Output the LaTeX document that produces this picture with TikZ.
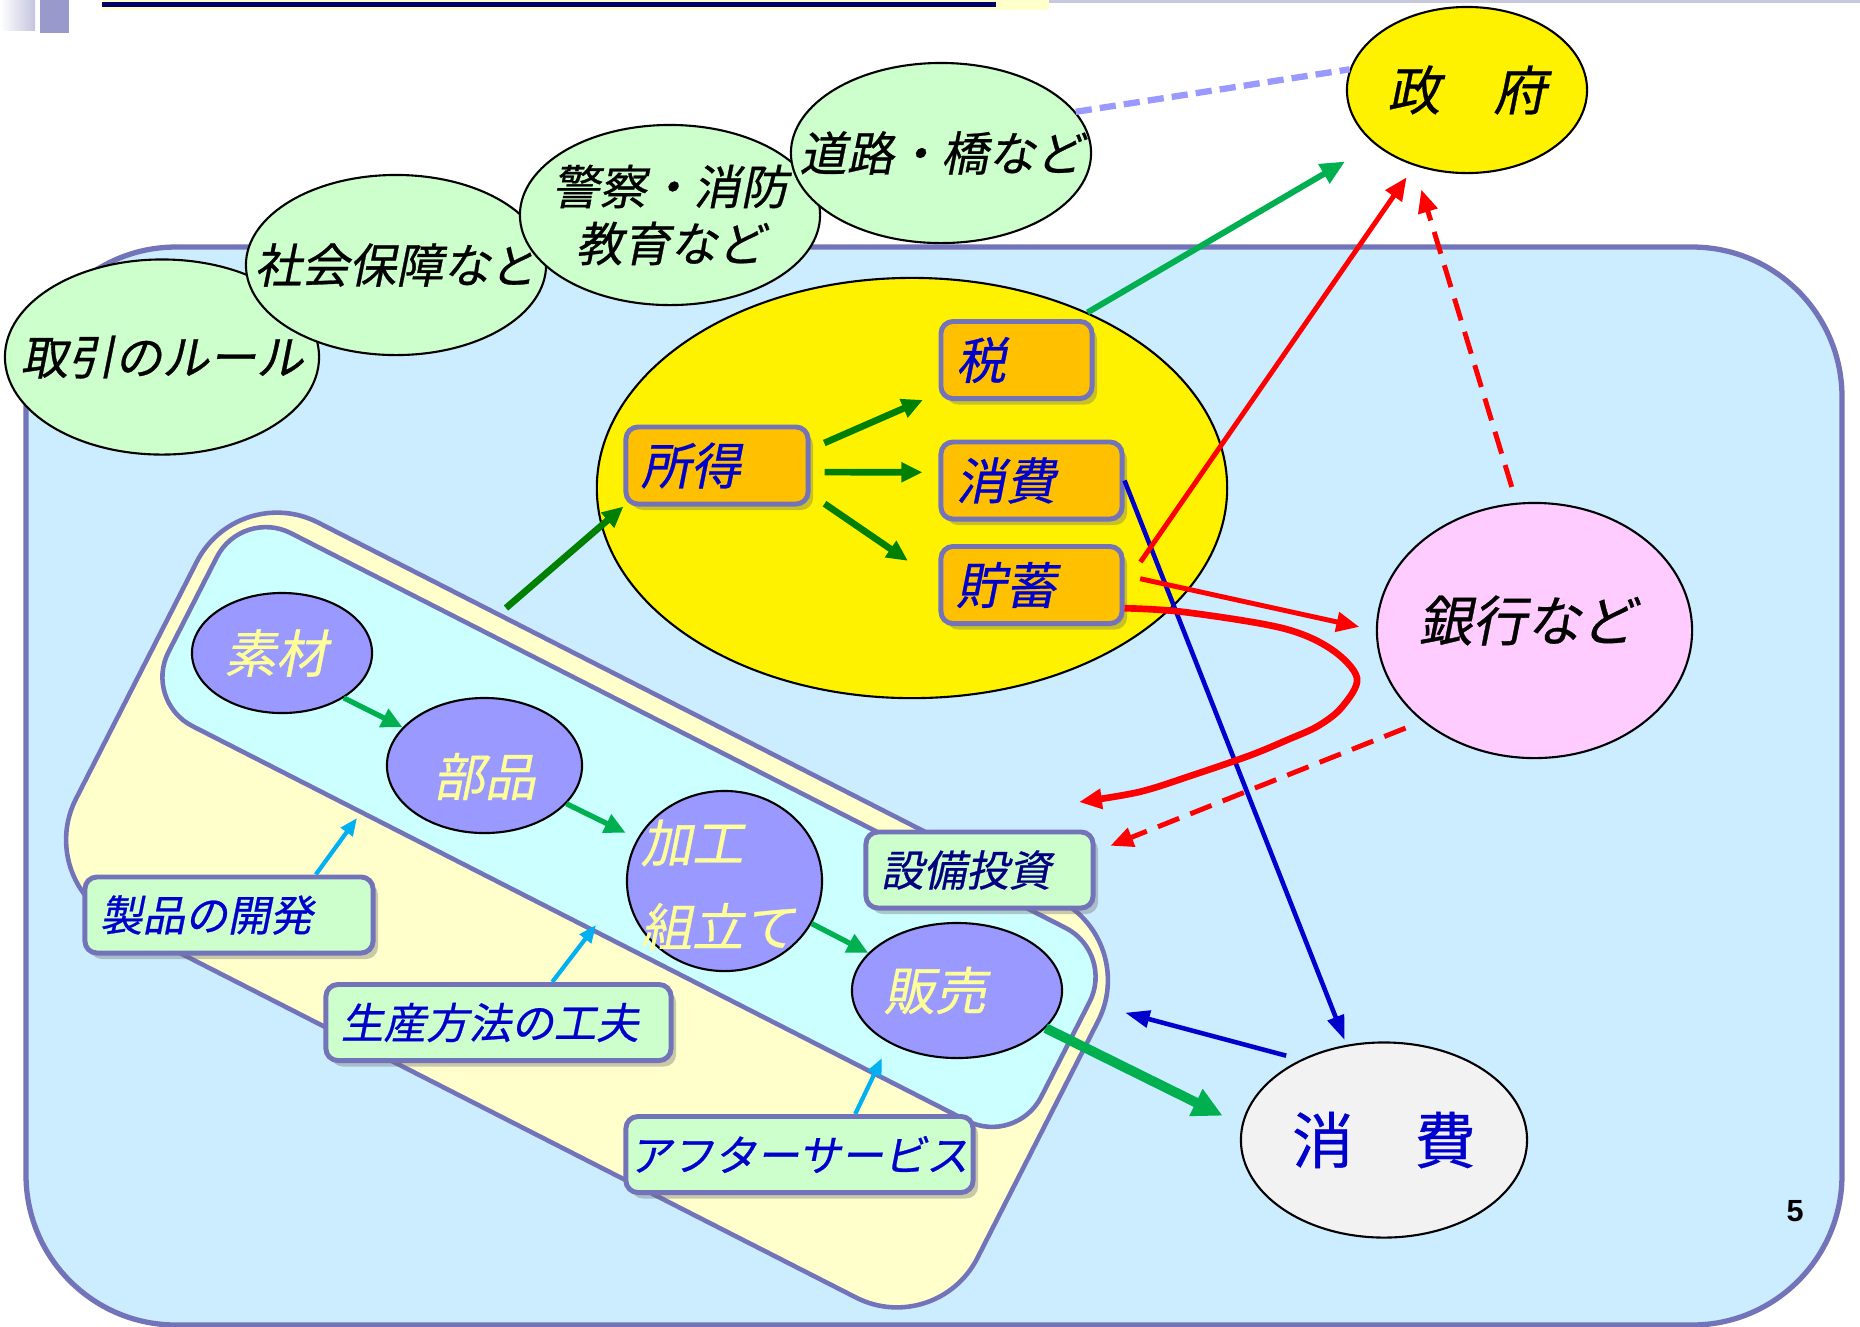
\documentclass[tikz,border=0pt]{standalone}
\usepackage{fontspec}
\newfontfamily\jpup[FakeBold=0.6]{Noto Sans CJK JP}
\newfontfamily\jpit[FakeSlant=0.2,FakeBold=0.6]{Noto Sans CJK JP}
\newfontfamily\pagefont{Liberation Sans}
\usetikzlibrary{arrows.meta,shapes.geometric,shadows}
\definecolor{sky}{RGB}{204,236,255}
\definecolor{rim}{RGB}{115,115,185}
\definecolor{mint}{RGB}{204,255,204}
\definecolor{cream}{RGB}{255,255,204}
\definecolor{aqua}{RGB}{204,255,255}
\definecolor{lilac}{RGB}{153,153,255}
\definecolor{straw}{RGB}{255,255,153}
\definecolor{amber}{RGB}{255,192,0}
\definecolor{ink}{RGB}{0,0,204}
\definecolor{navyink}{RGB}{0,0,128}
\definecolor{pinkish}{RGB}{255,204,255}
\definecolor{paleg}{RGB}{242,242,242}
\definecolor{leaf}{RGB}{0,128,0}
\definecolor{grass}{RGB}{0,176,80}
\definecolor{skyarrow}{RGB}{0,176,240}
\definecolor{headnavy}{RGB}{0,0,102}
\definecolor{headlav}{RGB}{196,196,224}
\definecolor{headdark}{RGB}{153,153,204}
\definecolor{headgrey}{RGB}{200,200,220}

\begin{document}
\begin{tikzpicture}[x=0.01cm,y=-0.01cm,
  oval/.style={ellipse,draw=black,line width=0.6pt,inner sep=0pt},
  service/.style={oval,fill=mint,minimum width=3cm,minimum height=1.8cm},
  svtext/.style={font=\jpit\fontsize{13.4}{16.2}\selectfont,align=center},
  proc/.style={oval,fill=lilac},
  proctext/.style={text=straw,font=\jpit\fontsize{14.6}{23.9}\selectfont},
  purse/.style={rectangle,rounded corners=0.12cm,draw=rim,line width=1.4pt,fill=amber,
    minimum height=0.77cm,inner xsep=0.15cm,align=left,text=ink,
    font=\jpit\fontsize{14.2}{17}\selectfont,
    drop shadow={shadow xshift=0.05cm,shadow yshift=-0.06cm,fill=black!60,opacity=0.35}},
  memo/.style={purse,fill=mint,minimum height=0.76cm,font=\jpit\fontsize{12.1}{14}\selectfont},
  band/.style={rectangle,draw=rim,line width=1.3pt,rotate=-27},
  flow/.style={leaf,line width=1.9pt,-{Triangle[length=6pt,width=5.4pt]}},
  tax/.style={grass,line width=1.7pt,-{Triangle[length=7pt,width=6pt]}},
  linkarrow/.style={grass,line width=1.5pt,-{Triangle[length=6pt,width=5.5pt]}},
  sell/.style={grass,line width=2.8pt,-{Triangle[length=8.5pt,width=8pt]}},
  cash/.style={red,line width=1.4pt,-{Triangle[length=6.5pt,width=5.5pt]}},
  loan/.style={cash,dash pattern=on 6.5pt off 3.4pt},
  goods/.style={ink,line width=1.3pt,-{Triangle[length=7pt,width=4.8pt]}},
  idea/.style={skyarrow,line width=1.2pt,-{Triangle[length=5pt,width=4pt]}},
  supply/.style={lilac,line width=1.8pt,dash pattern=on 4.6pt off 2.3pt}]
\useasboundingbox (0,0) rectangle (1860,1326);
\clip (0,0) rectangle (1860,1326);
\fill[left color=white,right color=headlav] (0,0) rectangle (35,30);
\fill[headdark] (40,0) rectangle (69,33);
\fill[cream] (102,0) rectangle (1049,10);
\fill[headnavy] (102,2) rectangle (996,7);
\fill[headgrey] (1049,0) rectangle (1860,3);
\draw[rim,line width=1.5pt,fill=sky,rounded corners=1.5cm] (26,247) rectangle (1842,1325);

\node[service,minimum width=3.14cm,minimum height=1.95cm,label={[name=torihiki-t,svtext]center:取引のルール}] (torihiki) at (162,357) {};
\node[service,label={[name=shakai-t,svtext]center:社会保障など}] (shakai) at (396,265) {};
\node[service,label={[name=keisatsu-t,svtext]center:警察・消防\\教育など}] (keisatsu) at (670,215) {};
\node[service,label={[name=doro-t,svtext]center:道路・橋など}] (doro) at (941,153) {};
\node[oval,fill=yellow,minimum width=2.4cm,minimum height=1.66cm,label={[name=seifu-t,font=\jpit\fontsize{15.1}{18}\selectfont]center:政　府}] (seifu) at (1467,90) {};
\draw[supply] (doro.17) -- (seifu.170);

\node[oval,fill=yellow,minimum width=6.3cm,minimum height=4.2cm] (kakei) at (912,488) {};
\node[purse,text width=1.52cm] (shotoku) at (717,465.5) {所得};
\node[purse,text width=1.21cm] (zei) at (1016.5,360) {税};
\node[purse,text width=1.51cm] (shohi) at (1031.5,480.5) {消費};
\node[purse,text width=1.51cm] (chochiku) at (1031.5,585) {貯蓄};
\draw[flow,shorten <=0.15cm,shorten >=0.17cm] (shotoku.10) -- (zei.203);
\draw[flow,shorten <=0.14cm,shorten >=0.16cm] (shotoku.-4) -- (shohi.175);
\draw[flow,shorten <=0.17cm,shorten >=0.37cm] (shotoku.-17) -- (chochiku.178);

\node[band,fill=cream,minimum width=10.11cm,minimum height=4.46cm,rounded corners=0.9cm] (seisan) at (587,910) {};
\node[band,fill=aqua,minimum width=9.79cm,minimum height=2.165cm,rounded corners=0.55cm] (kotei) at (629,827) {};
\node[proc,minimum width=1.8cm,minimum height=1.2cm,label={[name=sozai-t,proctext,xshift=-0.06cm]center:素材}] (sozai) at (282,653) {};
\node[proc,minimum width=1.95cm,minimum height=1.35cm,label={[name=buhin-t,proctext,yshift=-0.11cm]center:部品}] (buhin) at (484.5,765.5) {};
\node[proc,minimum width=1.95cm,minimum height=1.8cm] (kako) at (724.5,881) {};
\node[proctext,align=left,anchor=west,inner sep=0pt] (kako-t) at (640,885) {加工\\組立て};
\node[proc,minimum width=2.1cm,minimum height=1.35cm,label={[name=hanbai-t,proctext,xshift=-0.22cm]center:販売}] (hanbai) at (957,990.5) {};
\draw[linkarrow] (sozai.-36) -- (buhin.155);
\draw[linkarrow,shorten >=0.13cm] (buhin.-25) -- (kako.154);
\draw[linkarrow] (kako.-26) -- (hanbai.157);

\coordinate (outflow) at (506,608);
\coordinate (devpt) at (357,818);
\coordinate (methodpt) at (596,925);
\coordinate (servpt) at (882,1058);
\coordinate (invest) at (1079,802);
\draw[flow] (outflow) -- (shotoku.south west);
\node[memo,text width=2.58cm] (kaihatsu) at (229,915) {製品の開発};
\node[memo,text width=3.15cm] (kufu) at (498.5,1022.5) {生産方法の工夫};
\node[memo,inner xsep=0.03cm,text width=3.41cm] (after) at (799.5,1154.5) {アフターサービス};
\node[memo,text width=1.97cm,text=navyink] (setsubi) at (979.5,870) {設備投資};
\draw[idea] (kaihatsu.25) -- (devpt);
\draw[idea] (kufu.37) -- (methodpt);
\draw[idea] (after.36) -- (servpt);

\node[oval,fill=pinkish,minimum width=3.15cm,minimum height=2.55cm,label={[name=ginko-t,font=\jpit\fontsize{15.4}{18}\selectfont,xshift=-0.08cm,yshift=0.1cm]center:銀行など}] (ginko) at (1534.5,630.5) {};
\node[oval,fill=paleg,minimum width=2.86cm,minimum height=1.95cm,label={[name=shohisha-t,text=ink,font=\jpup\fontsize{17.4}{20}\selectfont]center:消　費}] (shohisha) at (1384,1140) {};
\node[font=\pagefont\bfseries\fontsize{8.7}{10}\selectfont] (page) at (1795,1211) {5};

\draw[tax,shorten >=0.34cm] (kakei.45) -- (seifu);
\draw[goods,shorten >=0.05cm] (shohi.east) -- (shohisha);
\draw[cash,shorten <=0.28cm,shorten >=0.14cm] (chochiku.east) -- (seifu);
\draw[loan,shorten <=0.165cm,shorten >=0.25cm] (ginko.98) -- (seifu.235);
\draw[cash,shorten <=0.16cm,shorten >=0.17cm] (chochiku.6) -- (ginko.west);
\draw[cash,line width=1.9pt] plot[smooth,tension=0.55] coordinates {(chochiku.-14) (1184,612) (1282,628) (1331,649) (1357,678) (1342,707) (1318,726) (1287,740) (1251,755) (1193,775) (1139,792) (invest)};
\draw[loan,shorten <=0.18cm,shorten >=0.16cm] (ginko.219) -- (setsubi.9);
\draw[goods,shorten <=0.15cm,shorten >=0.645cm] (shohisha.136) -- (hanbai.-3);
\draw[sell,shorten >=0.21cm] (hanbai.-23) -- (shohisha.174);
\end{tikzpicture}
\end{document}
